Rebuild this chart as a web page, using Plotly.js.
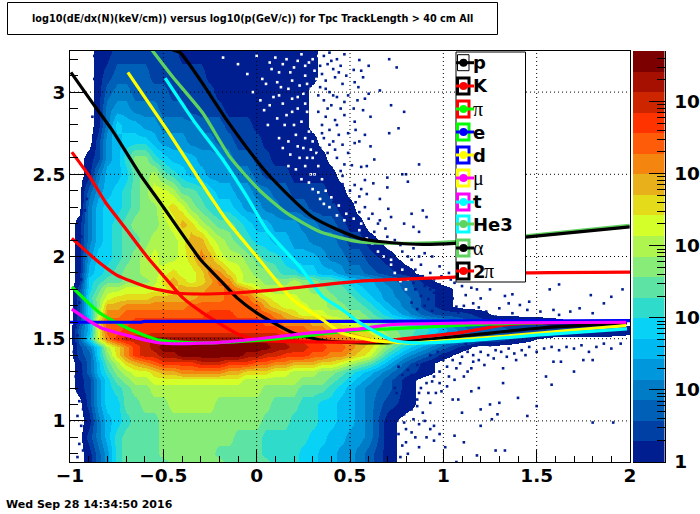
<!DOCTYPE html>
<html><head><meta charset="utf-8">
<script src="https://cdn.plot.ly/plotly-3.0.1.min.js"></script>
<style>html,body{margin:0;padding:0;background:#fff}#c{width:700px;height:514px}</style>
</head><body><div id="c"></div><script>
// ---- density map: colour-band level (0-19, -1 = empty bin)
const gridX=[-1,-.95,-.9,-.85,-.8,-.75,-.7,-.65,-.6,-.55,-.5,-.45,-.4,-.35,-.3,-.25,-.2,-.15,-.1,-.05,0,.05,.1,.15,.2,.25,.3,.35,.4,.45,.5,.55,.6,.7,.8,.9,1,1.1,1.2,1.3,1.4,1.6,1.8,2];
const gridY=[.75,.8,.9,1,1.1,1.2,1.25,1.3,1.35,1.4,1.45,1.5,1.55,1.6,1.65,1.7,1.75,1.8,1.85,1.9,2,2.1,2.2,2.3,2.4,2.5,2.6,2.7,2.8,2.9,3,3.1,3.25];
const levelRows=[
[-1,-1,0,2,4,7,8,8,8,8, 8,9,9,9,9,9,9,8,8,8, 8,8,7,7,7,6,6,5,5,4, 4,3,2,0],
[-1,-1,0,2,4,7,8,8,8,8, 9,9,9,9,9,9,8,8,8,8, 8,7,7,7,7,6,6,5,5,4, 4,3,2,0],
[-1,-1,1,3,5,7,8,8,8,8, 9,9,9,9,9,9,9,9,8,8, 8,7,7,7,7,7,6,6,5,5, 4,4,3,0],
[-1,-1,0,3,5,6,7,8,8,8, 9,9,9,9,9,9,9,9,9,9, 9,8,8,8,7,7,7,6,6,5, 5,4,3,0],
[-1,-1,1,4,6,6,8,8,9,9, 9,10,10,10,10,10,9,9,9,9, 9,9,8,8,8,7,7,6,6,5, 5,4,3,1,0],
[-1,0,1,4,6,7,8,9,9,10, 10,10,10,10,10,10,10,10,10,10, 10,9,9,9,9,8,8,8,7,6, 5,4,3,2,0],
[-1,0,1,4,6,8,9,10,10,11, 11,11,11,11,11,11,11,11,11,10, 10,10,10,10,10,9,9,9,8,7, 6,5,4,2,0],
[-1,0,2,5,7,9,10,11,11,12, 13,13,14,14,14,14,14,13,13,12, 12,12,11,11,10,10,10,9,9,8, 7,6,5,3,1,0],
[-1,0,2,5,8,10,12,13,14,15, 16,16,16,16,17,17,17,16,16,16, 15,15,14,14,13,13,13,12,12,11, 10,9,8,5,2,0],
[-1,1,2,6,9,12,14,16,17,17, 18,18,19,19,19,19,19,19,19,18, 18,17,17,16,16,16,15,15,14,14, 13,12,11,7,4,2,0],
[-1,1,3,6,10,12,14,16,17,18, 19,19,19,19,19,19,19,19,19,19, 19,19,18,18,17,17,16,16,15,15, 14,13,12,9,6,4,2,0],
[-1,2,6,11,14,16,17,17,17,18, 18,18,18,18,18,18,18,18,18,18, 18,18,18,17,17,16,16,15,15,14, 14,13,13,10,8,6,4,3,1,1, 0],
[-1,2,5,11,15,15,16,16,16,16, 16,16,16,16,16,16,16,16,16,16, 16,16,16,15,15,15,14,14,13,13, 12,12,11,9,8,7,5,3,2,2, 1,1,1,0],
[-1,1,5,12,15,15,15,16,16,16, 16,16,16,16,16,16,16,16,16,16, 16,15,15,14,14,14,13,13,12,11, 11,10,9,8,7,5,4,2,1,1, 1,0],
[-1,1,6,10,14,14,15,15,15,15, 15,15,15,15,15,16,16,16,15,15, 15,15,14,13,12,11,11,11,10,10, 9,9,8,6,4,2,1,1,0],
[-1,1,6,9,13,13,14,14,14,14, 14,14,14,15,15,15,15,15,15,15, 15,13,12,11,11,11,10,10,9,9, 8,8,7,5,3,1,0],
[-1,1,7,9,11,12,12,12,12,13, 13,13,13,13,14,14,14,15,15,15, 13,12,11,11,11,10,10,10,9,8, 8,7,6,4,3,1,0],
[-1,1,6,8,10,10,11,11,11,11, 11,12,13,13,13,14,14,15,14,13, 11,10,10,10,10,10,9,9,8,8, 7,6,5,4,2,1,0],
[-1,0,6,7,8,8,9,9,9,10, 12,13,12,11,12,13,15,14,11,10, 10,9,9,9,10,9,9,8,8,7, 6,5,5,3,2,0],
[-1,0,5,6,7,8,9,9,10,10, 11,12,11,11,12,14,14,12,11,10, 9,9,8,7,7,6,6,5,5,4, 3,3,2,1,0],
[-1,0,4,6,6,7,8,9,10,11, 10,10,11,12,14,13,11,10,10,9, 8,7,7,6,5,5,5,4,3,3, 2,2,1,0],
[-1,0,3,5,6,7,8,8,9,10, 10,10,11,13,13,11,10,9,8,7, 6,6,5,5,4,4,3,3,3,2, 1,1,0],
[-1,0,3,5,6,7,8,9,9,9, 10,11,13,12,10,9,8,8,7,6, 5,5,4,4,4,3,3,2,2,1, 0,0],
[-1,-1,3,5,6,6,7,8,9,9, 11,12,11,9,8,7,6,6,5,4, 4,3,3,2,2,2,1,1,1,0, 0],
[-1,-1,2,4,5,6,7,8,9,11, 11,10,8,8,7,6,5,5,4,4, 3,3,2,2,1,1,1,1,0,0],
[-1,-1,0,3,5,5,6,8,9,10, 8,7,6,5,5,4,4,4,3,3, 2,1,1,1,0,0,0,0,0],
[-1,-1,0,1,4,5,7,9,9,7, 6,5,5,5,4,4,4,3,2,2, 1,1,0,0,0,0,0,0],
[-1,-1,-1,1,4,5,6,6,6,5, 4,4,4,3,3,3,2,2,1,1, 1,0,0,0,0,0,0],
[-1,-1,-1,0,3,6,5,5,4,4, 3,3,3,3,2,2,2,1,1,1, 0,0,0,0,0,0],
[-1,-1,-1,0,3,4,4,3,3,3, 2,2,2,1,1,1,1,0,0,0, 0,0,0,0,0,0],
[-1,-1,-1,0,2,3,3,2,2,2, 2,1,1,1,1,1,0,0,0,0, 0,0,0,0,0,0],
[-1,-1,-1,0,1,2,2,2,2,1, 1,1,1,1,1,0,0,0,0,0, 0,0,0,0,0,0,0],
[-1,-1,-1,0,0,1,1,1,1,1, 1,1,0,0,0,0,0,0,0,0, 0,0,0,0,0,0,0]
];
const bandColors=['#001e90','#0040a4','#0060b8','#007cc6','#0097dc','#00b9f0','#08d2f5','#2fdccb','#5de3a3','#88ec78','#aef54f','#d4ff28','#e4dc1a','#e8b01a','#f4850f','#ff5c0a','#ff3300','#cc2500','#a51000','#7d0000'];
// isolated filled bins outside the solid region
const sparseBins=[[.98,1.39],[1.07,1.32],[1.15,1.32],[1.32,1.32],[1.19,1.37],[1.39,1.37],[1.59,1.36],[1.63,1.36],[1.75,1.37],[1.8,1.37],[1.7,1.3],[1.55,1.27],[1.58,1.22],[1.32,1.23],[1.19,1.2],[1.15,1.18],[1.4,1.14],[1.05,1.13],[1.08,1.13],[1.3,1.11],[1.25,1.1],[1.5,1.09],[1.2,1.07],[1.1,1.05],[1.45,1.03],[1.29,1.04],[1.26,1.01],[1.8,.99],[1.91,.99],[1.2,.97],[1.06,.91],[1.11,.87],[1.28,.82],[1.33,.82],[1.18,.79],[1.07,.75],[1.01,.84],[.95,.88],[.98,.92],[.95,.97],[.91,.9],[.87,.98],[.89,1.05],[.93,1.11],[.96,1.17],[1.02,1.21],[.98,1.23],[1.06,1.25],[1.11,1.27],[.95,1.27],[.91,1.23],[.87,1.17],[.86,1.09],[.84,1.01],[.85,.9],[.87,.84],[.81,.8],
[.74,.8],[.78,.85],[.76,.92],[.8,.95],[.75,1.0],[.79,1.04],[.83,1.07],[.77,1.1],[.81,1.15],[.75,1.17],[.84,1.2],[.79,1.24],[.83,1.28],[.87,1.3],[.9,1.35],[.86,1.34],[.94,1.33],[.98,1.3],[1.02,1.33],[1.05,1.37],[1.0,1.37],[.93,1.4],[.97,1.42],[1.02,1.4],[1.07,1.42],[1.1,1.39],[1.13,1.42],[1.16,1.4],[1.2,1.42],[1.24,1.4],[1.28,1.43],[1.31,1.42],[1.35,1.44],[1.38,1.41],[1.42,1.43],[1.46,1.45],[1.5,1.42],[1.54,1.44],[1.58,1.45],[1.62,1.43],[1.66,1.45],[1.7,1.44],[1.74,1.46],[1.78,1.42],[1.82,1.45],[1.86,1.47],[1.9,1.44],[1.95,1.47],[1.12,1.47],[1.18,1.46],[1.25,1.46],
[.74,1.2],[.78,1.28],[.76,1.33],[.81,1.31],[.85,1.25],[.88,1.2],[.92,1.17],[.9,1.28],[.94,1.24],[.99,1.18],[1.03,1.27],[1.09,1.35],[1.13,1.3],[1.16,1.36],[1.22,1.34],[1.27,1.38],[1.34,1.39],[1.44,1.4],[.72,.9],[.73,1.05],[.77,.78],[.8,.87],[.83,.93],[.79,.99],[.82,1.12],[.86,1.13],[.9,1.0],[.93,.95],
[1.15,1.81],[1.18,1.8],[1.25,1.8],[1.33,1.76],[1.37,1.77],[1.35,1.715],[1.41,1.705],[1.45,1.675],[1.52,1.665],[1.59,1.675],[1.57,1.8],[1.62,1.83],[1.79,1.765],[1.9,1.755],[1.96,1.8],[1.86,1.715],[1.8,1.655],[1.73,1.685],[1.68,1.665],[1.62,1.645],[1.46,1.725],[1.3,1.685],[1.23,1.665],[1.28,1.635],[1.37,1.655],[1.16,1.715],[1.2,1.745],[1.12,1.765],[1.05,1.745],[1.07,1.695],[1.02,1.8],[.98,1.83],[1.06,1.84],[1.1,1.82],[.95,1.78],[.92,1.74],[.9,1.82],[.86,1.87],[.93,1.9],[.98,1.94],[1.03,1.9],[1.08,1.93],[1.14,1.96],[1.2,2.0],[.88,1.95],[.83,1.98],[.9,2.02],[.84,2.05],[.78,2.03],[.74,2.1],[.69,2.17],
[.83,1.72],[.86,1.68],[.9,1.7],[.94,1.67],[.97,1.72],[1.01,1.68],[1.04,1.72],[1.08,1.66],[1.11,1.7],[1.15,1.67],[1.19,1.69],[.88,1.76],[.93,1.8],[.97,1.76],[1.01,1.75],[.85,1.8],[.84,1.84],[.89,1.88],[.95,1.86],[.99,1.88],[1.04,1.86],[.8,1.9],[.85,1.92],[.76,1.96],[.81,2.0],[.87,2.0],[.94,2.0],[.72,2.02],[.77,2.07],[.68,2.08],[.63,2.15],[.65,2.2],[.7,2.12],
[.75,3.15],[.71,3.2],[.66,3.01],[.72,2.92],[.79,2.88],[.76,2.78],[.71,2.75],[.63,2.59],[.87,2.56],[.8,2.5],[.78,2.5],[.7,2.48],[.7,2.42],[.81,2.455],[.89,2.28],[.83,2.26],[.91,2.24],[.72,2.24],[.79,2.2],[.84,2.18],[.87,2.15],[.705,2.29],[.66,2.35],[.59,2.38],[.625,2.445],[.58,2.465],[.56,2.545],[.61,2.67],[.58,2.74],[.61,2.85],[.57,2.89],[.54,2.95],[.6,2.99],[.545,3.03],[.57,3.09],[.6,3.16],[.55,3.195],[.52,3.135],[.525,3.06],[.49,2.98],[.52,2.9],[.525,2.82],[.49,2.75],[.525,2.69],[.49,2.63],[.51,2.555],[.525,2.435],[.55,2.365],
[.36,3.22],[.39,3.24],[.43,3.2],[.47,3.23],[.38,3.17],[.41,3.14],[.45,3.16],[.35,3.11],[.37,3.07],[.42,3.09],[.46,3.05],[.34,3.03],[.39,3.0],[.43,2.97],[.48,3.1],[.36,2.95],[.4,2.92],[.45,2.9],[.33,2.88],[.37,2.85],[.42,2.83],[.47,2.86],[.35,2.8],[.39,2.77],[.44,2.74],[.36,2.72],[.41,2.7],[.46,2.68],[.34,2.66],[.38,2.63],[.43,2.6],[.36,2.57],[.4,2.54],[.45,2.52],[.47,2.56],[.38,2.48],[.42,2.46],[.46,2.44],[.5,2.4],[.44,2.38],[.53,2.33],[.48,2.34],[.58,2.3],[.62,2.26],[.66,2.22],
[.34,3.16],[.4,3.19],[.44,3.12],[.37,3.02],[.41,2.98],[.33,2.98],[.47,2.94],[.38,2.9],[.43,2.8],[.35,2.75],[.39,2.68],[.33,2.62],[.42,2.65],[.37,2.53],[.34,2.5],[.41,2.5],[.46,2.49],[.39,2.43],[.43,2.42],[.47,2.38],[.41,2.33],[.51,2.3],[.55,2.27],[.6,2.23],[.56,2.41],[.59,2.55],[.55,2.7],[.53,2.77],[.58,2.96],[.56,3.13],
[-.96,.78],[-.93,.82],[-.95,.86],[-.92,.93],[-.94,.97],[-.96,1.03],[-.93,1.07],[-.95,1.12],[-.92,1.15],[-.96,1.18],[-.94,1.22],[-.97,1.27],[-.94,1.3],[-.96,1.36],[-.98,1.42],[-.97,1.47],[-.96,1.52],[-.97,1.57],[-.96,1.65],[-.95,1.72],[-.96,1.78],[-.94,1.86],[-.95,1.93],[-.93,2.05],[-.94,2.12],[-.92,2.28],[-.91,2.35],[-.9,2.5],[-.88,2.65],[-.87,2.78],[-.88,2.85],[-.86,2.97],[-.87,3.08],[-.86,3.18],[-.87,3.22]];
// empty bins inside the solid low-count region
const emptyBins=[[.33,3.22],[.28,3.18],[.24,3.23],[.31,3.13],[.26,3.1],[.2,3.15],[.16,3.2],[.12,3.12],[.23,3.04],[.29,3.02],[.17,3.02],[.07,3.18],[.03,3.08],[.22,2.97],[.26,2.93],[.31,2.96],[.14,2.93],[.19,2.88],[.29,2.85],[.24,2.82],[.09,2.97],[.04,2.89],[.15,2.8],[.28,2.76],[.21,2.74],[.3,2.7],[.12,2.72],[.25,2.66],[.18,2.62],[.3,2.6],[.33,2.55],[.26,2.55],[.21,2.53],[.31,2.5],[.35,2.47],[.28,2.45],[.37,2.4],[.4,2.36],[.33,2.39],[.44,2.31],[.36,2.32],[.48,2.26],[.52,2.23],[.56,2.2],[.6,2.18],[.63,2.14],[.67,2.1],[.71,2.05],[.65,2.03],[.72,1.95],[.78,1.92],[.81,1.86],[.72,1.98],[-.02,3.0],[-.1,3.17],[.0,3.22],[-.18,3.21],[-.05,3.11],[.06,2.8],[.11,3.06],[.02,2.95],
[.3,3.2],[.26,3.16],[.22,3.19],[.18,3.12],[.14,3.17],[.1,3.21],[.08,3.14],[.05,3.05],[.13,3.03],[.19,3.07],[.27,3.05],[.32,3.08],[.25,2.99],[.19,2.96],[.12,2.98],[.07,2.92],[.16,2.86],[.22,2.9],[.31,2.9],[.27,2.88],[.2,2.8],[.11,2.84],[.26,2.72],[.17,2.7],[.22,2.67],[.14,2.66],[.29,2.65],[.23,2.6],[.27,2.6],[.32,2.63],[.17,2.55],[.24,2.47],[.29,2.5],[.3,2.41],[.34,2.35],[.39,2.3],[.43,2.25],[.47,2.22],[.55,2.16],[.59,2.11],[.62,2.08],[.68,2.0],[.62,2.18],[.74,1.9],[.77,1.85],[.8,1.8]];
// ---- curves
const pX=[-.995,-.877,-.775,-.625,-.518,-.3,-.196,-.105,.002,.195,.377,.677,.859,1.159,1.518,1.984],pY=[3.12,2.93,2.77,2.5,2.33,1.98,1.857,1.748,1.656,1.535,1.486,1.474,1.49,1.523,1.565,1.596];
const kX=[-.99,-.893,-.81,-.695,-.588,-.48,-.395,-.287,-.09,.034,.323,.554,.677,.87,1.08,1.34,1.7,1.98],kY=[2.635,2.483,2.33,2.16,2,1.857,1.748,1.656,1.523,1.49,1.48,1.48,1.485,1.51,1.535,1.585,1.6,1.6];
const piX=[-.99,-.84,-.695,-.518,-.25,0,.195,.554,.714,1.25,1.98],piY=[1.815,1.656,1.565,1.49,1.475,1.49,1.51,1.553,1.56,1.59,1.61];
const eX=[-1,-.62,-.6,.5,2],eY=[1.6,1.6,1.605,1.605,1.61];
const dX=[-.69,-.588,-.48,-.34,-.16,0,.195,.355,.446,.537,.623,.714,.84,.98,1.34,1.695,1.98],dY=[3.12,2.95,2.77,2.525,2.22,2,1.736,1.614,1.54,1.51,1.49,1.48,1.474,1.486,1.516,1.553,1.58];
const muX=[-.99,-.84,-.695,-.518,-.25,0,.286,.554,.714,1.16,1.98],muY=[1.68,1.57,1.52,1.474,1.474,1.498,1.535,1.56,1.585,1.596,1.6];
const tX=[-.49,-.34,-.18,-.05,.055,.232,.355,.446,.554,.73,.859,1.16,1.518,1.984],tY=[3.085,2.83,2.587,2.36,2.16,1.936,1.754,1.687,1.596,1.49,1.474,1.49,1.523,1.56];
const he3X=[-.56,-.448,-.287,-.143,.018,.16,.34,.554,.82,1.06,1.44,1.998],he3Y=[3.255,3.09,2.87,2.605,2.4,2.265,2.15,2.088,2.08,2.09,2.125,2.19];
const alphaX=[-.448,-.41,-.3,-.16,.055,.3,.554,.82,1.06,1.44,1.998],alphaY=[3.255,3.24,3.07,2.83,2.508,2.24,2.11,2.076,2.08,2.118,2.18];
const twoPiX=[-.99,-.84,-.75,-.588,-.427,-.3,-.127,.087,.554,1.06,1.44,2],twoPiY=[2.11,1.96,1.887,1.815,1.778,1.772,1.778,1.796,1.85,1.875,1.9,1.905];
const curves=[[pX,pY,'#000000'],[kX,kY,'#ff0000'],[piX,piY,'#00ff00'],[eX,eY,'#0000ff'],[dX,dY,'#ffff00'],[muX,muY,'#ff00ff'],[tX,tY,'#00ffff'],[he3X,he3Y,'#5fd35f'],[alphaX,alphaY,'#000000'],[twoPiX,twoPiY,'#ff0000']];
// ---- legend
const legendLabels=['p','K','π','e','d','μ','t','He3','α','2π'];
const legendGreek=[false,false,true,false,false,true,false,false,true,false];
const legendBox=['#000000','#000000','#ff0000','#00ff00','#0000ff','#ffff00','#ff00ff','#00ffff','#5fd35f','#000000'];
const legendMark=['#000000','#ff0000','#00ff00','#0000ff','#ffff00','#ff00ff','#00ffff','#5fd35f','#000000','#ff0000'];
const legendPy=[62.7,86,109,132,155,178,202,224,248,271];
// ---- axes text
const xTicks=[-1,-.5,0,.5,1,1.5,2],xTickText=['\u22121','\u22120.5','0','0.5','1','1.5','2'];
const yTicks=[1,1.5,2,2.5,3];
const barTicks=[0,1,2,3,4,5],barTickText=['1','10','10<sup>2</sup>','10<sup>3</sup>','10<sup>4</sup>','10<sup>5</sup>'];
const barStep=0.285;
const titleText='log10(dE/dx(N)(keV/cm)) versus log10(p(GeV/c)) for Tpc TrackLength > 40 cm All';
const dateText='Wed Sep 28 14:34:50 2016';

const W=700,H=514,PX=x=>x/W,PY=y=>1-y/H;
const BOLD={family:'DejaVu Sans',weight:700,color:'#000'};
const scale=[[0,'#ffffff'],[1/21,'#ffffff']];
bandColors.forEach((c,i)=>{scale.push([(i+1)/21,c]);scale.push([(i+2)/21,c]);});
const zRows=levelRows.map(r=>{const o=r.map(v=>v+.5);while(o.length<gridX.length)o.push(-.5);return o;});
const traces=[{type:'heatmap',x:gridX,y:gridY,z:zRows,zmin:-1,zmax:20,colorscale:scale,zsmooth:'best',showscale:false,hoverinfo:'skip'}];
traces.push({type:'scatter',mode:'markers',x:emptyBins.map(p=>p[0]),y:emptyBins.map(p=>p[1]),marker:{symbol:'square',size:2.6,color:'#ffffff'},hoverinfo:'skip'});
traces.push({type:'scatter',mode:'markers',x:sparseBins.map(p=>p[0]),y:sparseBins.map(p=>p[1]),marker:{symbol:'square',size:2.6,color:bandColors[0]},hoverinfo:'skip'});
const gridLine={color:'#000',width:1,dash:'1px,3px'};
const gx=[],gy=[];
xTicks.slice(1,-1).forEach(v=>{gx.push(v,v,null);gy.push(.75,3.25,null);});
yTicks.forEach(v=>{gx.push(-1,2,null);gy.push(v,v,null);});
traces.push({type:'scatter',mode:'lines',x:gx,y:gy,line:gridLine,hoverinfo:'skip'});
curves.forEach(c=>traces.push({type:'scatter',mode:'lines',x:c[0],y:c[1],line:c[0]===eX?{color:c[2],width:3.2}:{color:c[2],width:3.2,shape:'spline',smoothing:.6},hoverinfo:'skip'}));
traces.push({type:'heatmap',xaxis:'x2',yaxis:'y2',x:[0,1],y:bandColors.map((c,i)=>i*barStep).concat([bandColors.length*barStep]),
  z:bandColors.map((c,i)=>[i+.5]),zmin:-1,zmax:20,colorscale:scale,showscale:false,hoverinfo:'skip'});

const shapes=[],annotations=[];
const rectPx=(x0,y0,x1,y1,o)=>Object.assign({type:'rect',xref:'paper',yref:'paper',x0:PX(x0),x1:PX(x1),y0:PY(y0),y1:PY(y1),layer:'above'},o);
shapes.push(rectPx(7.5,2.5,497.5,34.5,{line:{color:'#000',width:1},fillcolor:'#fff'}));
shapes.push(rectPx(456,52,525.5,282,{line:{color:'#000',width:1},fillcolor:'#fff'}));
legendLabels.forEach((t,i)=>{
  const y=legendPy[i];
  shapes.push(rectPx(457.5,y-8,469,y+8,{line:{color:legendBox[i],width:i===0?1:3},fillcolor:'rgba(0,0,0,0)'}));
  shapes.push({type:'line',xref:'paper',yref:'paper',x0:PX(456),x1:PX(474),y0:PY(y),y1:PY(y),layer:'above',line:{color:legendMark[i],width:3}});
  shapes.push({type:'circle',xref:'paper',yref:'paper',x0:PX(459.5),x1:PX(467.5),y0:PY(y-4),y1:PY(y+4),layer:'above',fillcolor:legendMark[i],line:{width:0}});
  if(t==='2π'){
    annotations.push({xref:'paper',yref:'paper',x:PX(471),y:PY(y),xanchor:'left',yanchor:'middle',text:'2',showarrow:false,font:Object.assign({},BOLD,{size:18})});
    annotations.push({xref:'paper',yref:'paper',x:PX(482),y:PY(y),xanchor:'left',yanchor:'middle',text:'π',showarrow:false,font:{family:'Liberation Serif',size:20,color:'#000'}});
  }else{
    annotations.push({xref:'paper',yref:'paper',x:PX(471),y:PY(y),xanchor:'left',yanchor:'middle',text:t,showarrow:false,
      font:legendGreek[i]?{family:'Liberation Serif',size:20,color:'#000'}:Object.assign({},BOLD,{size:18})});
  }
});
annotations.push({xref:'paper',yref:'paper',x:PX(252),y:PY(18.5),xanchor:'center',yanchor:'middle',text:titleText,showarrow:false,font:Object.assign({},BOLD,{size:9.7})});
annotations.push({xref:'paper',yref:'paper',x:PX(4),y:PY(504),xanchor:'left',yanchor:'middle',text:dateText,showarrow:false,font:Object.assign({},BOLD,{size:11})});

const layout={width:W,height:H,margin:{l:0,r:0,t:0,b:0},paper_bgcolor:'#fff',plot_bgcolor:'#fff',showlegend:false,
 xaxis:{domain:[PX(70),PX(630)],range:[-1,2],anchor:'y',tickmode:'array',tickvals:xTicks,ticktext:xTickText,ticks:'inside',ticklen:12,tickcolor:'#000',tickwidth:1,showline:true,mirror:true,linecolor:'#000',linewidth:1,showgrid:false,zeroline:false,ticklabelstandoff:-3,tickfont:Object.assign({},BOLD,{size:18.5}),minor:{dtick:.1,ticks:'inside',ticklen:6,tickcolor:'#000',tickwidth:1,showgrid:false}},
 yaxis:{domain:[PY(462),PY(51)],range:[.75,3.25],anchor:'x',tickmode:'array',tickvals:yTicks,ticktext:['1','1.5','2','2.5','3'],ticks:'inside',ticklen:16,tickcolor:'#000',tickwidth:1,showline:true,mirror:true,linecolor:'#000',linewidth:1,showgrid:false,zeroline:false,tickfont:Object.assign({},BOLD,{size:18.5}),minor:{dtick:.1,ticks:'inside',ticklen:8,tickcolor:'#000',tickwidth:1,showgrid:false}},
 xaxis2:{domain:[PX(633),PX(664.5)],range:[0,1],anchor:'y2',showticklabels:false,ticks:'',showline:true,linecolor:'#000',linewidth:1,showgrid:false,zeroline:false},
 yaxis2:{domain:[PY(462),PY(51)],range:[0,bandColors.length*barStep],anchor:'x2',side:'right',tickmode:'array',tickvals:barTicks,ticktext:barTickText,ticks:'inside',ticklen:16,tickcolor:'#000',tickwidth:1,showline:true,linecolor:'#000',linewidth:1,showgrid:false,zeroline:false,ticklabelstandoff:5,tickfont:Object.assign({},BOLD,{size:18.5}),
   minor:{tickmode:'array',tickvals:[.301,.477,.602,.699,.778,.845,.903,.954,1.301,1.477,1.602,1.699,1.778,1.845,1.903,1.954,2.301,2.477,2.602,2.699,2.778,2.845,2.903,2.954,3.301,3.477,3.602,3.699,3.778,3.845,3.903,3.954,4.301,4.477,4.602,4.699,4.778,4.845,4.903,4.954,5.301,5.477,5.602],ticks:'inside',ticklen:8,tickcolor:'#000',tickwidth:1,showgrid:false}},
 shapes:shapes,annotations:annotations};
Plotly.newPlot('c',traces,layout,{displayModeBar:false,staticPlot:true});
</script></body></html>
